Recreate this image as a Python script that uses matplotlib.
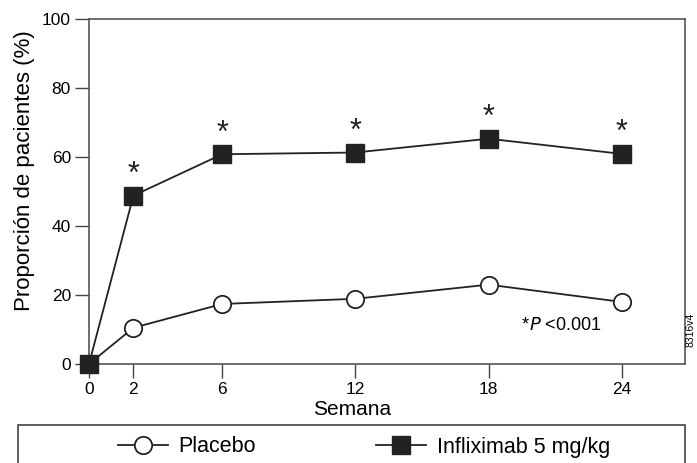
import matplotlib.pyplot as plt
from matplotlib.patches import Rectangle
from matplotlib.lines import Line2D

semanas = [0, 2, 6, 12, 18, 24]
placebo = [0, 10.5, 17.4, 18.9, 23.0, 18.0]
infliximab = [0, 48.8, 60.8, 61.3, 65.3, 60.9]
asteriscos = [2, 6, 12, 18, 24]

plt.rcParams['font.family'] = ['Liberation Sans', 'DejaVu Sans']

fig = plt.figure(figsize=(6.97, 4.63), dpi=100)
ax = fig.add_axes([89 / 697, 1 - 364 / 463, 596 / 697, 345 / 463])

dark = '#222222'
ax.plot(semanas, placebo, color=dark, lw=1.3, marker='o', ms=12.5,
        mfc='white', mec=dark, mew=1.3, clip_on=False, zorder=3)
ax.plot(semanas, infliximab, color=dark, lw=1.3, marker='s', ms=12.5,
        mfc=dark, mec=dark, clip_on=False, zorder=4)

# asteriscos de significacion sobre infliximab
for s in asteriscos:
    y = infliximab[semanas.index(s)]
    ax.annotate('*', (s, y), xytext=(0, 4), textcoords='offset points',
                ha='center', va='bottom', fontsize=22, color=dark)

ax.set_xlim(0, 26.85)
ax.set_ylim(0, 100)
ax.set_xticks(semanas)
ax.set_yticks([0, 20, 40, 60, 80, 100])
ax.tick_params(direction='out', length=10, width=1, color='#444444',
               labelsize=12.5, pad=3)
for sp in ax.spines.values():
    sp.set_color('#555555')
    sp.set_linewidth(1.2)

ax.set_xlabel('Semana', fontsize=15)
ax.xaxis.set_label_coords(0.441, -0.103)
ax.set_ylabel('Proporción de pacientes (%)', fontsize=16)
ax.yaxis.set_label_coords(-0.09, 0.56)

ax.text(0.738, 0.1, '*', transform=ax.transAxes, fontsize=13, ha='right')
ax.text(0.738, 0.1, '$\\it{P}$ <0.001', transform=ax.transAxes,
        fontsize=13, ha='left')
fig.text(690 / 697, 1 - 330 / 463, '8316v4', rotation=90, fontsize=7.5,
         ha='center', va='center')

fig.patches.append(Rectangle((18 / 697, -0.05), 667 / 697, 0.05 + 38 / 463,
                             transform=fig.transFigure, fill=False,
                             edgecolor='#444444', lw=1.2))

handles = [
    Line2D([], [], color=dark, lw=1.3, marker='o', ms=12.5, mfc='white',
           mec=dark, mew=1.3),
    Line2D([], [], color=dark, lw=1.3, marker='s', ms=12.5, mfc=dark, mec=dark),
]
fig.legend(handles, ['Placebo', 'Infliximab 5 mg/kg'], loc='center',
           bbox_to_anchor=(364 / 697, 1 - 447 / 463), ncol=2, frameon=False,
           fontsize=15.5, handlelength=2.3, handletextpad=0.5,
           columnspacing=5.6)

fig.savefig('out.png', dpi=100)
